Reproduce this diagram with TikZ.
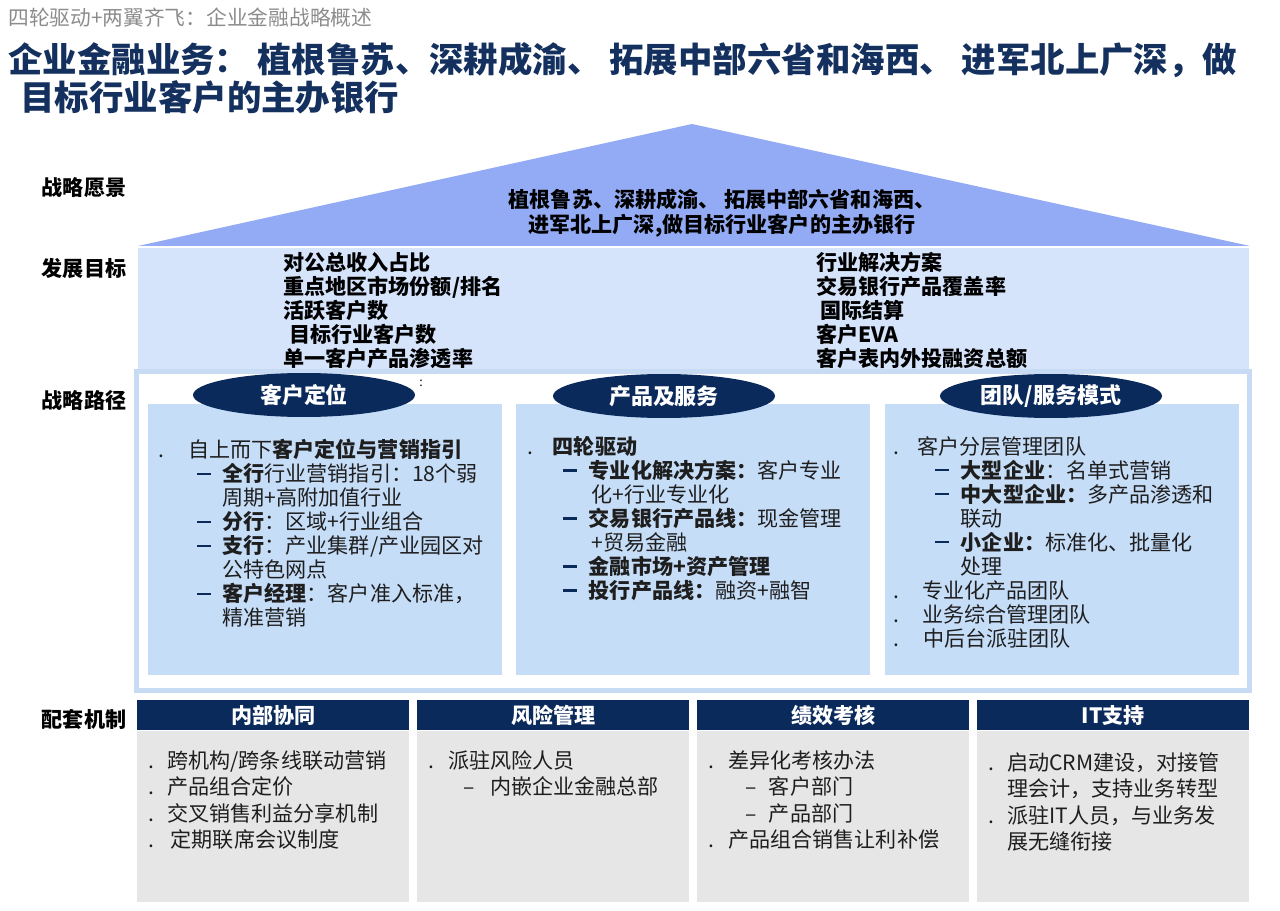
\documentclass[tikz,border=0pt]{standalone}
\usepackage{fontspec}
\setmainfont{Noto Sans CJK SC}
\usetikzlibrary{shapes.geometric,positioning}
\definecolor{navy}{HTML}{0B2A5C}
\definecolor{titlenavy}{HTML}{14305E}
\definecolor{roofblue}{HTML}{92ABF4}
\definecolor{bandblue}{HTML}{D5E3FB}
\definecolor{frameblue}{HTML}{C8DBF4}
\definecolor{colblue}{HTML}{C6DDF8}
\definecolor{cellgray}{HTML}{E6E6E6}
\definecolor{titlegray}{HTML}{8C8C8C}
\definecolor{inktext}{HTML}{1E1E1E}
\newcommand{\bul}[1][15.5pt]{\makebox[#1][l]{.}}
\newcommand{\dashitem}[1][22pt]{\hspace*{#1}\makebox[14.5pt][l]{\textcolor{navy}{\rule[0.33em]{8pt}{1.2pt}}}}
\newcommand{\cont}[1][36.5pt]{\hspace*{#1}}
\newcommand{\cbul}[1][10.8pt]{\makebox[#1][l]{.}}
\newcommand{\cdash}{\hspace*{21pt}\makebox[13.5pt][l]{–}}
\tikzset{
  sidelabel/.style={font=\fontsize{12pt}{14pt}\selectfont\bfseries, text=black, inner sep=0pt},
  goaltext/.style={font=\fontsize{12pt}{13.66pt}\selectfont\bfseries, text=black,
    align=left, anchor=north west, inner sep=0pt},
  colbox/.style={rectangle, fill=colblue, anchor=north west, inner sep=0pt,
    minimum width=7.08cm, minimum height=5.42cm},
  pillar/.style={ellipse, fill=navy, text=white, inner sep=0pt,
    minimum width=4.44cm, minimum height=0.88cm,
    font=\fontsize{12.5pt}{14pt}\selectfont\bfseries},
  coltext/.style={font=\fontsize{12pt}{13.66pt}\selectfont, text=inktext,
    align=left, anchor=north west, inner sep=0pt},
  headbar/.style={rectangle, fill=navy, text=white, anchor=north west, inner sep=0pt,
    minimum width=5.44cm, minimum height=0.6cm,
    font=\fontsize{12pt}{14pt}\selectfont\bfseries},
  cellbox/.style={rectangle, fill=cellgray, anchor=north west, inner sep=0pt,
    minimum width=5.44cm, minimum height=3.42cm},
  celltext/.style={coltext, font=\fontsize{12pt}{15.1pt}\selectfont}
}
\begin{document}
\begin{tikzpicture}[x=0.02cm,y=-0.02cm]
  \useasboundingbox (0,0) rectangle (1280,911);

  % headings
  \node[anchor=west, inner sep=0pt, text=titlegray,
    font=\fontsize{11.8pt}{14pt}\selectfont] (pagetitle) at (8,18)
    {四轮驱动+两翼齐飞：企业金融战略概述};
  \node[anchor=north west, inner sep=0pt, align=left, text=titlenavy,
    font=\fontsize{19.6pt}{21.6pt}\selectfont\bfseries] (headline) at (8,42)
    {企业金融业务： 植根鲁苏、深耕成渝、 拓展中部六省和海西、 进军北上广深，做\\
     \hspace*{0.35em}目标行业客户的主办银行};

  % row labels
  \node[sidelabel] (lblVision) at (84,188) {战略愿景};
  \node[sidelabel] (lblGoal) at (84,268) {发展目标};
  \node[sidelabel] (lblPath) at (84,400) {战略路径};
  \node[sidelabel] (lblSupport) at (84,719) {配套机制};

  % roof and goals band
  \fill[roofblue] (138,246) -- (692,124) -- (1250,246) -- cycle;
  \fill[bandblue] (138,248) rectangle (1249,371);
  \node[align=center, inner sep=0pt, text=black,
    font=\fontsize{12pt}{14.2pt}\selectfont\bfseries] (vision) at (722,213)
    {植根鲁苏、深耕成渝、 拓展中部六省和海西、\\
     进军北上广深,做目标行业客户的主办银行};
  \node[goaltext] (goalsL) at (283,252)
    {对公总收入占比\\
     重点地区市场份额/排名\\
     活跃客户数\\
     \hspace*{3.4pt}目标行业客户数\\
     单一客户产品渗透率};
  \node[goaltext] (goalsR) at (816,252)
    {行业解决方案\\
     交易银行产品覆盖率\\
     \hspace*{2.3pt}国际结算\\
     客户EVA\\
     客户表内外投融资总额};

  % strategic paths
  \draw[frameblue, fill=white, line width=0.1cm] (136.5,371.5) rectangle (1249.5,690.5);
  \node[colbox] (colA) at (148,404) {};
  \node[colbox] (colB) at (516,404) {};
  \node[colbox] (colC) at (885,404) {};
  \node[pillar] (pillA) at (304,395) {客户定位};
  \node[pillar] (pillB) at (664,396) {产品及服务};
  \node[pillar] (pillC) at (1051,396) {团队/服务模式};
  \node[inner sep=0pt, font=\fontsize{7pt}{8pt}\selectfont] (stray) at (421,383) {:};

  \node[coltext] (colAtxt) at (158,439)
    {\bul[17pt]自上而下\textbf{客户定位与营销指引}\\
     \dashitem\textbf{全行}行业营销指引：18个弱\\
     \cont 周期+高附加值行业\\
     \dashitem\textbf{分行}：区域+行业组合\\
     \dashitem\textbf{支行}：产业集群/产业园区对\\
     \cont 公特色网点\\
     \dashitem\textbf{客户经理}：客户准入标准，\\
     \cont 精准营销};
  \node[coltext] (colBtxt) at (527,436)
    {\bul[14.5pt]\textbf{四轮驱动}\\
     \dashitem[20.5pt]\textbf{专业化解决方案：}客户专业\\
     \cont 化+行业专业化\\
     \dashitem[20.5pt]\textbf{交易银行产品线：}现金管理\\
     \cont +贸易金融\\
     \dashitem[20.5pt]\textbf{金融市场+资产管理}\\
     \dashitem[20.5pt]\textbf{投行产品线：}融资+融智};
  \node[coltext] (colCtxt) at (893,436)
    {\bul[13.7pt]客户分层管理团队\\
     \dashitem[23.9pt]\textbf{大型企业}：名单式营销\\
     \dashitem[23.9pt]\textbf{中大型企业：}多产品渗透和\\
     \cont[38.4pt]联动\\
     \dashitem[23.9pt]\textbf{小企业：}标准化、批量化\\
     \cont[38.4pt]处理\\
     \bul[16.5pt]专业化产品团队\\
     \bul[16.5pt]业务综合管理团队\\
     \bul[17pt]中后台派驻团队};

  % supporting mechanisms
  \node[headbar] (headA) at (137,700) {内部协同};
  \node[headbar] (headB) at (417,700) {风险管理};
  \node[headbar] (headC) at (697,700) {绩效考核};
  \node[headbar] (headD) at (977,700) {IT支持};
  \node[cellbox] (cellA) at (137,731) {};
  \node[cellbox] (cellB) at (417,731) {};
  \node[cellbox] (cellC) at (697,731) {};
  \node[cellbox] (cellD) at (977,731) {};

  \node[celltext] (cellAtxt) at (148,750)
    {\cbul 跨机构/跨条线联动营销\\
     \cbul 产品组合定价\\
     \cbul 交叉销售利益分享机制\\
     \cbul[12.8pt]定期联席会议制度};
  \node[celltext] (cellBtxt) at (428,750)
    {\cbul[11.4pt]派驻风险人员\\
     \hspace*{20pt}\makebox[15.3pt][l]{–}内嵌企业金融总部};
  \node[celltext] (cellCtxt) at (708,750)
    {\cbul[11.4pt]差异化考核办法\\
     \cdash 客户部门\\
     \cdash 产品部门\\
     \cbul[11.4pt]产品组合销售让利补偿};
  \node[celltext] (cellDtxt) at (988,752)
    {\cbul 启动CRM建设，对接管\\
     \cont[10.8pt]理会计，支持业务转型\\
     \cbul 派驻IT人员，与业务发\\
     \cont[10.8pt]展无缝衔接};
\end{tikzpicture}
\end{document}
